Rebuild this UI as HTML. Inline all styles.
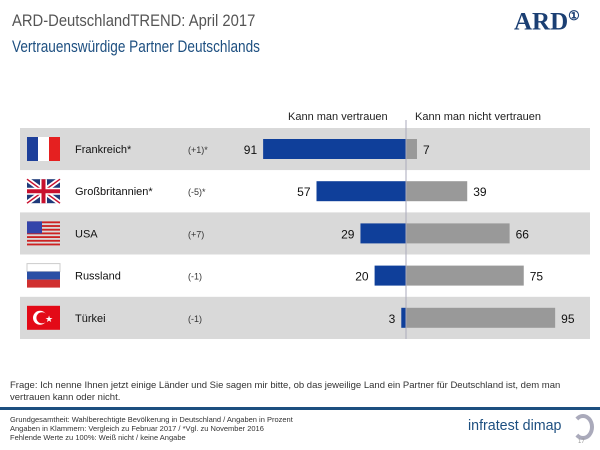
<!DOCTYPE html>
<html><head><meta charset="utf-8"><style>
body{margin:0;width:600px;height:450px;background:#fff;font-family:"Liberation Sans",sans-serif;position:relative;overflow:hidden}
.a{position:absolute;white-space:nowrap}
</style></head><body>
<div class="a" style="left:12px;top:11px;font-size:17px;color:#555;transform:scaleX(0.87);transform-origin:0 0">ARD-DeutschlandTREND: April 2017</div>
<div class="a" style="left:12px;top:37px;font-size:17px;color:#1d4f80;transform:scaleX(0.8);transform-origin:0 0">Vertrauenswürdige Partner Deutschlands</div>
<div class="a" style="left:514px;top:8px;font-size:25px;font-weight:bold;color:#1b3f73;font-family:'Liberation Serif',serif">ARD<sup style="font-size:13px">①</sup></div>
<div class="a" style="left:288px;top:111px;font-size:11px;color:#222">Kann man vertrauen</div>
<div class="a" style="left:415px;top:111px;font-size:11px;color:#222">Kann man nicht vertrauen</div>
<svg id="chart" width="600" height="450" style="position:absolute;left:0;top:0"></svg>
<div class="a" style="left:10px;top:380px;font-size:9.5px;color:#333;line-height:12px;white-space:normal;width:580px">Frage: Ich nenne Ihnen jetzt einige Länder und Sie sagen mir bitte, ob das jeweilige Land ein Partner für Deutschland ist, dem man vertrauen kann oder nicht.</div>
<div class="a" style="left:0;top:407px;width:600px;height:3px;background:#1d4f80"></div>
<div class="a" style="left:10px;top:415px;font-size:7.5px;color:#333;line-height:9px">Grundgesamtheit: Wahlberechtigte Bevölkerung in Deutschland / Angaben in Prozent<br>Angaben in Klammern: Vergleich zu Februar 2017 / *Vgl. zu November 2016<br>Fehlende Werte zu 100%: Weiß nicht / keine Angabe</div>
<div class="a" style="left:468px;top:417px;font-size:15px;color:#1d4f80;transform:scaleX(0.95);transform-origin:0 0">infratest dimap</div>
<div class="a" style="left:572px;top:414px;width:14px;height:18px;border:4px solid #aab;border-left-color:transparent;border-radius:50%"></div>
<div class="a" style="left:578px;top:439px;font-size:6px;color:#999">17</div>
<script>
const countries=["Frankreich*","Großbritannien*","USA","Russland","Türkei"];
const changes=["(+1)*","(-5)*","(+7)","(-1)","(-1)"];
const trust=[91,57,29,20,3];
const distrust=[7,39,66,75,95];
const svg=document.getElementById('chart');const NS="http://www.w3.org/2000/svg";
const cx=406,sc=1.57,top0=128,rh=42.2;
const x=v=>v*sc;
function mk(t,a,name){const e=document.createElementNS(NS,t);for(const k in a)e.setAttribute(k,a[k]);


svg.appendChild(e);return e;}
function txt(s,xx,yy,size,fill,anchor,name){const e=mk('text',{x:xx,y:yy,'font-size':size,fill:fill,'text-anchor':anchor,'font-family':'Liberation Sans, sans-serif'},name);e.textContent=s;return e;}
function flag(i,y){const fx=27,fw=33,fh=24,fy=y+9;
if(i==0){mk('rect',{x:fx,y:fy,width:11,height:fh,fill:'#1d3f9a'},'flag-france-blue');mk('rect',{x:fx+11,y:fy,width:11,height:fh,fill:'#fff'},'flag-france-white');mk('rect',{x:fx+22,y:fy,width:11,height:fh,fill:'#e52020'},'flag-france-red');}
if(i==1){mk('rect',{x:fx,y:fy,width:fw,height:fh,fill:'#1f3a7a'},'flag-uk-bg');mk('path',{d:`M${fx} ${fy}L${fx+fw} ${fy+fh}M${fx+fw} ${fy}L${fx} ${fy+fh}`,stroke:'#fff','stroke-width':5},'flag-uk-diag');mk('path',{d:`M${fx} ${fy}L${fx+fw} ${fy+fh}M${fx+fw} ${fy}L${fx} ${fy+fh}`,stroke:'#c8102e','stroke-width':1.5},'flag-uk-diag-red');mk('path',{d:`M${fx+fw/2} ${fy}V${fy+fh}M${fx} ${fy+fh/2}H${fx+fw}`,stroke:'#fff','stroke-width':7},'flag-uk-cross');mk('path',{d:`M${fx+fw/2} ${fy}V${fy+fh}M${fx} ${fy+fh/2}H${fx+fw}`,stroke:'#c8102e','stroke-width':4},'flag-uk-cross-red');}
if(i==2){for(let k=0;k<7;k++)mk('rect',{x:fx,y:fy+k*fh/6.5,width:fw,height:fh/13,fill:'#c22'},'flag-usa-stripe');mk('rect',{x:fx,y:fy,width:15,height:12,fill:'#3344aa'},'flag-usa-canton');}
if(i==3){mk('rect',{x:fx,y:fy,width:fw,height:8,fill:'#fff',stroke:'#ccc'},'flag-russia-white');mk('rect',{x:fx,y:fy+8,width:fw,height:8,fill:'#2a4fa5'},'flag-russia-blue');mk('rect',{x:fx,y:fy+16,width:fw,height:8,fill:'#d03030'},'flag-russia-red');}
if(i==4){mk('rect',{x:fx,y:fy,width:fw,height:fh,fill:'#e30a17'},'flag-turkey-bg');mk('circle',{cx:fx+13,cy:fy+12,r:7,fill:'#fff'},'flag-turkey-crescent');mk('circle',{cx:fx+15,cy:fy+12,r:5.6,fill:'#e30a17'},'flag-turkey-crescent-cut');txt('★',fx+22,fy+16,9,'#fff','middle','flag-turkey-star');}}
countries.forEach((c,i)=>{const y=top0+i*rh;
mk('rect',{x:20,y:y,width:570,height:rh,fill:i%2==0?'#d9d9d9':'#fff'},'row-bg-'+i);
flag(i,y);
txt(c,75,y+25,11,'#111','start','country-label');
txt(changes[i],188,y+25,9,'#333','start','change-label');
mk('rect',{x:cx-x(trust[i]),y:y+11,width:x(trust[i]),height:20,fill:'#0f3f9a'},'bar-trust-'+i);
mk('rect',{x:cx,y:y+11,width:x(distrust[i]),height:20,fill:'#999'},'bar-distrust-'+i);
txt(String(trust[i]),cx-x(trust[i])-6,y+26,12,'#111','end','value-trust');
txt(String(distrust[i]),cx+x(distrust[i])+6,y+26,12,'#111','start','value-distrust');
});
mk('line',{x1:cx,y1:top0-8,x2:cx,y2:top0+5*rh,stroke:'#aab','stroke-width':1},'center-axis');
</script>
</body></html>
